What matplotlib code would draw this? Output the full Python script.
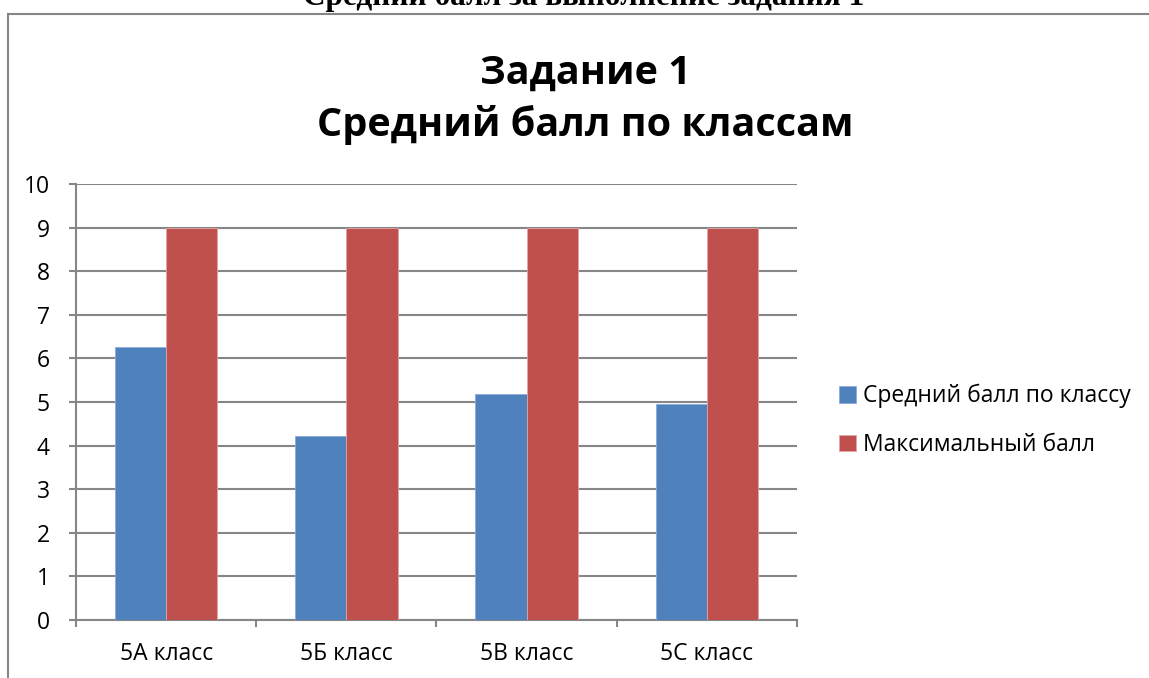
import numpy as np
import matplotlib.pyplot as plt
from matplotlib.lines import Line2D

categories = ['5А класс', '5Б класс', '5В класс', '5С класс']
avg_score = [6.27, 4.21, 5.19, 4.95]
max_score = [9, 9, 9, 9]
series_names = ['Средний балл по классу', 'Максимальный балл']
y_ticks = list(range(0, 11))

plt.rcParams['font.family'] = ['Open Sans', 'DejaVu Sans']

W, H = 1149, 678
fig = plt.figure(figsize=(W / 100, H / 100), dpi=100)

# axes placed in pixel terms of the reference
ax = fig.add_axes([76 / W, (H - 620) / H, 721 / W, 436 / H])

x = np.arange(len(categories))
bw = 0.285
grid_col = '#868686'
fs = 16.5

ax.bar(x - bw / 2, avg_score, bw, color='#4F81BD', edgecolor='#8EAADB', linewidth=0.6,
       label=series_names[0], zorder=3)
ax.bar(x + bw / 2, max_score, bw, color='#C0504D', edgecolor='#E3A5A3', linewidth=0.6,
       label=series_names[1], zorder=3)

ax.set_xlim(-0.5, len(categories) - 0.5)
ax.set_ylim(0, 10)
ax.set_yticks(y_ticks)
ax.yaxis.grid(True, color=grid_col, linewidth=1.5, zorder=0)
ax.set_axisbelow(True)

for s in ['top', 'right']:
    ax.spines[s].set_visible(False)
for s in ['left', 'bottom']:
    ax.spines[s].set_color(grid_col)
    ax.spines[s].set_linewidth(1.5)

ax.set_xticks(x)
ax.set_xticklabels(categories)
ax.set_xticks(np.arange(-0.5, len(categories), 1.0), minor=True)
ax.tick_params(axis='x', which='major', length=0, pad=16, labelsize=fs)
ax.tick_params(axis='x', which='minor', length=5, width=1.5, color=grid_col)
ax.tick_params(axis='y', length=5, width=1.5, color=grid_col, pad=14, labelsize=fs)

leg = ax.legend(loc='center left', bbox_to_anchor=((839 - 76) / 721, (620 - 420.5) / 436),
                frameon=False, fontsize=fs, handlelength=0.75, handleheight=0.75,
                handletextpad=0.3, labelspacing=1.07, borderpad=0, borderaxespad=0)

# chart title
fig.text(585 / W, (H - 84) / H, 'Задание 1', ha='center', va='baseline',
         fontsize=28.5, fontweight='bold')
fig.text(585 / W, (H - 136) / H, 'Средний балл по классам', ha='center', va='baseline',
         fontsize=28.5, fontweight='bold')

# document heading cut off at the top of the image
fig.text(584 / W, (H - 5) / H, 'Средний балл за выполнение задания 1', ha='center',
         va='baseline', fontsize=22.5, fontweight='bold',
         family=['Liberation Serif', 'DejaVu Serif'])

# chart frame (runs off the right and bottom edges)
fig.add_artist(Line2D([8 / W, 1.0], [(H - 13.5) / H] * 2, color=grid_col, linewidth=1.5))
fig.add_artist(Line2D([8 / W] * 2, [0, (H - 13.5) / H], color=grid_col, linewidth=1.5))

fig.savefig('out.png', dpi=100)
